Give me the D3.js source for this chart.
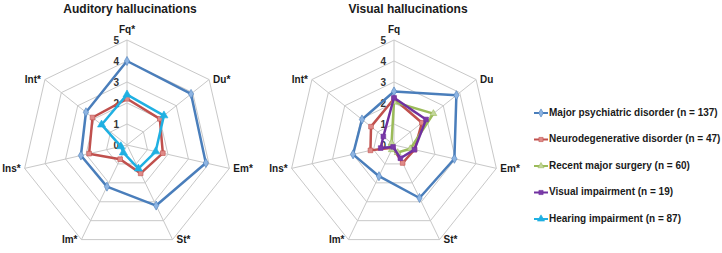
<!DOCTYPE html>
<html><head><meta charset="utf-8">
<script src="https://cdn.jsdelivr.net/npm/d3@7"></script>
<style>body{margin:0;background:#fff}svg{display:block;font-family:"Liberation Sans",Arial,sans-serif}</style>
</head><body><svg id="c" width="722" height="253"></svg>
<script>
const axesAud = ["Fq*","Du*","Em*","St*","Im*","Ins*","Int*"];
const axesVis = ["Fq","Du","Em*","St*","Im*","Ins*","Int*"];
const tickLabels = [0,1,2,3,4,5];
const audMajor   = [4.0, 3.9, 3.85, 3.2, 2.2, 2.25, 2.5];
const audNeuro   = [2.2, 2.0, 1.75, 1.5, 0.75, 1.85, 2.1];
const audHearing = [2.4, 2.25, 1.4, 1.25, 0.4, 0.3, 1.55];
const visMajor   = [2.55, 3.8, 2.95, 2.8, 1.65, 2.0, 1.95];
const visNeuro   = [2.2, 1.7, 1.0, 0.95, 0.15, 1.15, 1.4];
const visSurgery = [2.05, 2.4, 0.8, 0.4, 0.25, 0.15, 0.15];
const visVisual  = [2.25, 1.95, 1.0, 0.7, 0.1, 0.65, 0.65];
const legendNames = ["Major psychiatric disorder (n = 137)","Neurodegenerative disorder (n = 47)","Recent major surgery (n = 60)","Visual impairment (n = 19)","Hearing impairment (n = 87)"];

const styles = {
  major:{line:"#4a7ebb", fill:"#8db4e2", sym:d3.symbolDiamond, size:24},
  neuro:{line:"#c0504d", fill:"#e08a88", sym:d3.symbolSquare, size:22},
  surgery:{line:"#9bbb59", fill:"#c3d69b", sym:d3.symbolTriangle, size:20},
  visual:{line:"#7030a0", fill:"#7a3aa8", sym:d3.symbolSquare, size:22},
  hearing:{line:"#1fb0e2", fill:"#1fb0e2", sym:d3.symbolTriangle, size:28}
};
const legendKeys = ["major","neuro","surgery","visual","hearing"];

const svg = d3.select("#c");
const R = 105;
const r = d3.scaleLinear().domain([0,5]).range([0,R]);

function radar(cx, cy, title, titleX, axes, series){
  const g = svg.append("g").attr("transform",`translate(${cx},${cy})`);
  const n = axes.length;
  const ang = d3.scaleLinear().domain([0,n]).range([0,2*Math.PI]);
  const pt = (i,v)=>[r(v)*Math.sin(ang(i)), -r(v)*Math.cos(ang(i))];
  tickLabels.slice(1).forEach(t=>{
    g.append("path").attr("d", d3.line()(d3.range(n).map(i=>pt(i,t)))+"Z")
      .attr("fill","none").attr("stroke","#c8c8c8").attr("stroke-width",1);
  });
  d3.range(n).forEach(i=>{
    const p = pt(i,5);
    g.append("line").attr("x1",0).attr("y1",0).attr("x2",p[0]).attr("y2",p[1])
      .attr("stroke","#c8c8c8").attr("stroke-width",1);
  });
  tickLabels.forEach(t=>{
    g.append("text").attr("x",-8).attr("y",-r(t)+1).attr("text-anchor","end")
      .attr("dominant-baseline","middle").attr("font-size",10).attr("font-weight","bold")
      .attr("fill","#333").text(t);
  });
  axes.forEach((a,i)=>{
    const p = pt(i,5);
    const t = g.append("text").attr("font-size",10).attr("font-weight","bold").attr("fill","#1a1a1a").text(a);
    if(i===0){ t.attr("x",p[0]).attr("y",p[1]-10).attr("text-anchor","middle").attr("dominant-baseline","middle"); }
    else if(i<=3){ t.attr("x",p[0]+4).attr("y",p[1]+1).attr("dominant-baseline","middle"); }
    else { t.attr("x",p[0]-4).attr("y",p[1]+1).attr("text-anchor","end").attr("dominant-baseline","middle"); }
  });
  const line = d3.lineRadial().angle((d,i)=>ang(i)).radius(d=>r(d)).curve(d3.curveLinearClosed);
  series.forEach(([vals,key])=>{
    const s = styles[key];
    g.append("path").attr("d", line(vals)).attr("fill","none").attr("stroke",s.line).attr("stroke-width",2.5).attr("stroke-linejoin","round");
    vals.forEach((v,i)=>{
      const p = pt(i,v);
      g.append("path").attr("d", d3.symbol().type(s.sym).size(s.size)()).attr("transform",`translate(${p[0]},${p[1]})`)
        .attr("fill",s.fill).attr("stroke",s.line).attr("stroke-width",0.6);
    });
  });
  svg.append("text").attr("x",titleX).attr("y",13).attr("text-anchor","middle").attr("font-size",12).attr("font-weight","bold").attr("fill","#1a1a1a").text(title);
}

radar(127,145,"Auditory hallucinations",130,axesAud,[[audMajor,"major"],[audNeuro,"neuro"],[audHearing,"hearing"]]);
radar(394,145,"Visual hallucinations",408,axesVis,[[visMajor,"major"],[visNeuro,"neuro"],[visSurgery,"surgery"],[visVisual,"visual"]]);

const ly = d3.scaleLinear().domain([0,4]).range([113,219]);
legendKeys.forEach((k,i)=>{
  const s = styles[k], y = ly(i);
  const lg = svg.append("g");
  lg.append("line").attr("x1",534).attr("x2",548).attr("y1",y).attr("y2",y).attr("stroke",s.line).attr("stroke-width",2);
  lg.append("path").attr("d", d3.symbol().type(s.sym).size(s.size*0.8)()).attr("transform",`translate(541,${y})`).attr("fill",s.fill).attr("stroke",s.line).attr("stroke-width",0.6);
  lg.append("text").attr("x",549).attr("y",y).attr("dominant-baseline","middle").attr("font-size",10).attr("font-weight","bold").attr("fill","#1a1a1a").text(legendNames[i]);
});
</script></body></html>
